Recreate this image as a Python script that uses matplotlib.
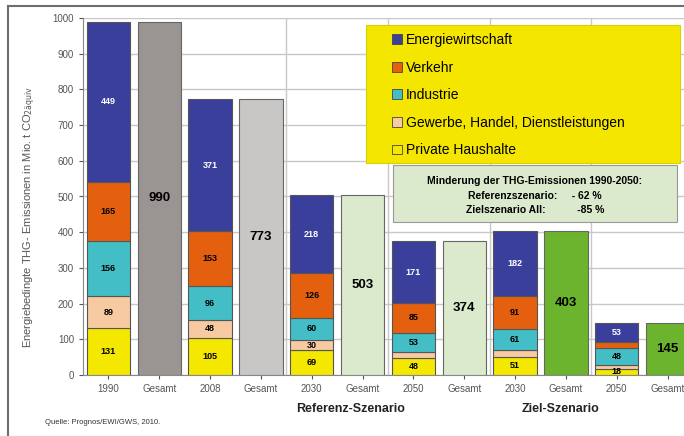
import matplotlib.pyplot as plt
import numpy as np
from matplotlib.patches import Patch, Rectangle
from matplotlib.lines import Line2D
from matplotlib import rcParams

rcParams.update({"font.family": ["Liberation Sans", "DejaVu Sans"]})

# x categories
categories = ["1990", "Gesamt", "2008", "Gesamt", "2030", "Gesamt",
              "2050", "Gesamt", "2030", "Gesamt", "2050", "Gesamt"]

# stacked sectors (bottom -> top) for the year bars
haushalte = [131, 105, 69, 48, 51, 18]
gewerbe = [89, 48, 30, 17, 18, 9]
industrie = [156, 96, 60, 53, 61, 48]
verkehr = [165, 153, 126, 85, 91, 17]
energie = [449, 371, 218, 171, 182, 53]
gesamt = [990, 773, 503, 374, 403, 145]

sector_names = ["Private Haushalte", "Gewerbe, Handel, Dienstleistungen",
                "Industrie", "Verkehr", "Energiewirtschaft"]
sector_colors = ["#f4e800", "#f7caa2", "#44bec6", "#e5600e", "#3b3f9c"]
gesamt_colors = ["#9a9592", "#c9c7c5", "#dbe9cc", "#dbe9cc", "#6cb42e", "#6cb42e"]

fig = plt.figure(figsize=(6.84, 4.36), dpi=100)
ax = fig.add_axes([83 / 684, 61 / 436, 610 / 684, 357 / 436])

width = 0.85
x = np.arange(len(categories))
year_x = x[0::2]
total_x = x[1::2]

bottom = np.zeros(len(year_x))
for vals, name, col in zip([haushalte, gewerbe, industrie, verkehr, energie],
                           sector_names, sector_colors):
    ax.bar(year_x, vals, width=width, bottom=bottom, color=col,
           edgecolor="#555555", linewidth=0.8, zorder=3)
    for xx, b, v in zip(year_x, bottom, vals):
        if v >= 25 or name == "Private Haushalte":
            tc = "white" if name == "Energiewirtschaft" else "black"
            ax.text(xx, b + v / 2, str(v), ha="center", va="center",
                    fontsize=6.5, fontweight="bold", color=tc, zorder=4)
    bottom = bottom + np.array(vals)

ax.bar(total_x, gesamt, width=width, color=gesamt_colors,
       edgecolor="#666666", linewidth=0.8, zorder=3)
for xx, v in zip(total_x, gesamt):
    ax.text(xx, v / 2, str(v), ha="center", va="center",
            fontsize=9.5, fontweight="bold", color="black", zorder=4)

ax.set_xlim(-0.5, 11.5)
ax.set_ylim(0, 1000)
ax.set_yticks(np.arange(0, 1001, 100))
ax.set_xticks(x)
ax.set_xticklabels(categories)
ax.tick_params(labelsize=7, colors="#555555", length=3)
ax.grid(axis="y", color="#c8c8c8", linewidth=1, zorder=0)
for gx in [3.5, 5.5, 7.5, 9.5]:
    ax.axvline(gx, color="#c8c8c8", linewidth=1, zorder=0)
for s in ["top", "right"]:
    ax.spines[s].set_visible(False)
for s in ["left", "bottom"]:
    ax.spines[s].set_color("#888888")

fig.text(30 / 684, 1 - 217 / 436,
         "Energiebedingte THG- Emissionen in Mio. t CO$_{\\mathrm{2äquiv}}$",
         rotation=90, ha="center", va="center", fontsize=8, color="#555555")

# group labels under the axis
fig.text(351 / 684, 1 - 409 / 436, "Referenz-Szenario", ha="center", va="center",
         fontsize=9, fontweight="bold", color="#222222")
fig.text(560 / 684, 1 - 409 / 436, "Ziel-Szenario", ha="center", va="center",
         fontsize=9, fontweight="bold", color="#222222")
fig.text(45 / 684, 1 - 422 / 436, "Quelle: Prognos/EWI/GWS, 2010.",
         ha="left", va="center", fontsize=5.5, color="#333333")

# legend box: yellow panel with a frameless legend inside
fig.patches.append(Rectangle((366 / 684, 1 - 163 / 436), 314 / 684, 138 / 436,
                             transform=fig.transFigure, facecolor="#f5e600",
                             edgecolor="#d8d000", linewidth=0.8, zorder=4))
handles = [Patch(facecolor=c, edgecolor="#444444", linewidth=0.6)
           for c in sector_colors[::-1]]
leg = fig.legend(handles, sector_names[::-1], loc="upper left",
                 bbox_to_anchor=(392 / 684, 1 - 33 / 436),
                 fontsize=10, frameon=False,
                 handlelength=0.7, handleheight=0.7, handletextpad=0.3,
                 labelspacing=0.98, borderpad=0, borderaxespad=0)
leg.set_zorder(5)

# Minderung box
fig.patches.append(Rectangle((393 / 684, 1 - 222 / 436), 284 / 684, 57 / 436,
                             transform=fig.transFigure, facecolor="#dbe9cc",
                             edgecolor="#999999", linewidth=0.8, zorder=5))
fig.text(535 / 684, 1 - 181 / 436, "Minderung der THG-Emissionen 1990-2050:",
         ha="center", va="center", fontsize=7.5, fontweight="bold", zorder=6)
fig.text(535 / 684, 1 - 196 / 436, "Referenzszenario:     - 62 %",
         ha="center", va="center", fontsize=7.5, fontweight="bold", zorder=6)
fig.text(535 / 684, 1 - 210 / 436, "Zielszenario All:           -85 %",
         ha="center", va="center", fontsize=7.5, fontweight="bold", zorder=6)

# outer frame lines
fig.add_artist(Line2D([8 / 684, 8 / 684], [0, 1 - 6 / 436], transform=fig.transFigure,
                      color="#6e6e6e", linewidth=1.5))
fig.add_artist(Line2D([8 / 684, 1], [1 - 6 / 436, 1 - 6 / 436], transform=fig.transFigure,
                      color="#6e6e6e", linewidth=1.5))

fig.savefig("out.png", dpi=100)
